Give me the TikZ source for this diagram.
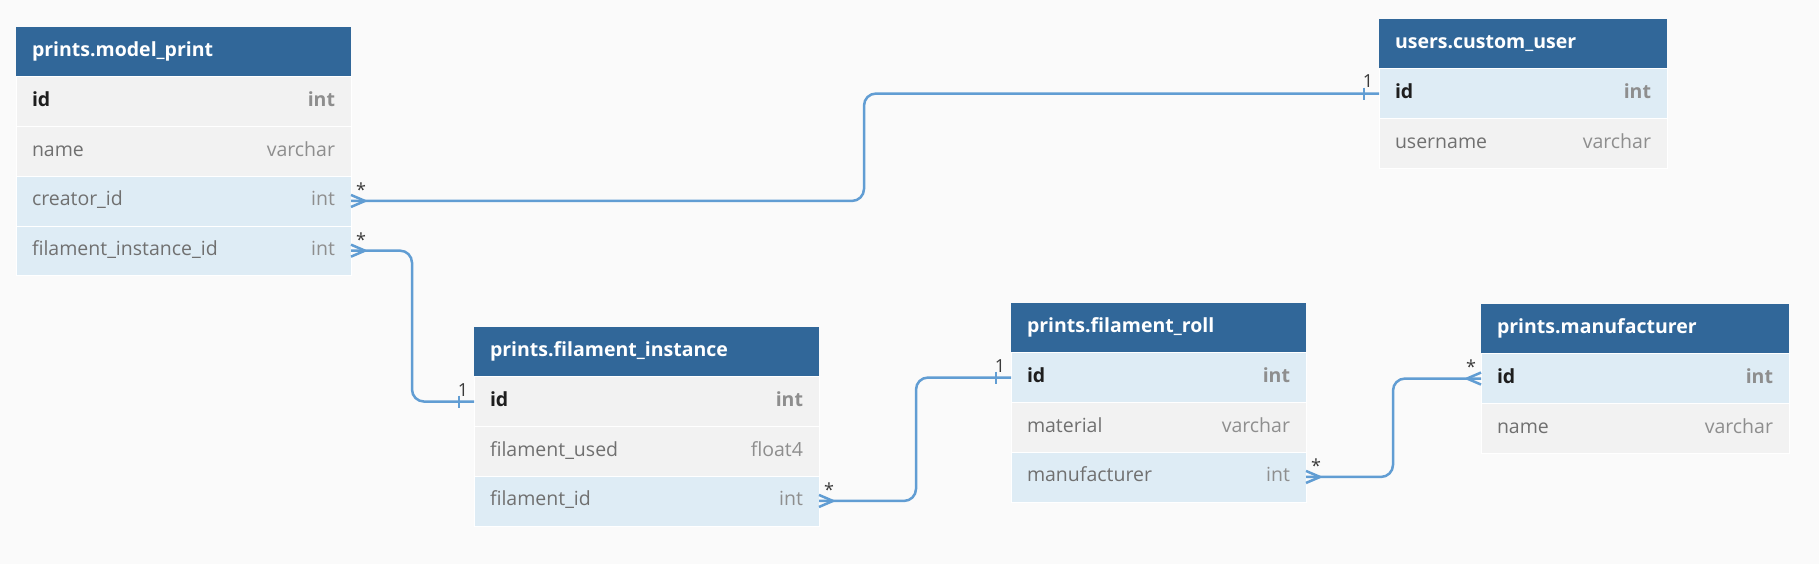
\documentclass[tikz,border=0pt]{standalone}
\usepackage{fontspec}
\setmainfont{Open Sans}
\usetikzlibrary{positioning}

\definecolor{bgcol}{HTML}{FAFAFA}
\definecolor{hdrblue}{HTML}{316799}
\definecolor{cblue}{HTML}{DEECF5}
\definecolor{cgray}{HTML}{F2F2F2}
\definecolor{linkblue}{HTML}{619DD3}
\definecolor{fieldgray}{HTML}{707070}
\definecolor{typegray}{HTML}{8E8E8E}
\definecolor{idblack}{HTML}{1E1E1E}
\definecolor{cardgray}{HTML}{3A3A3A}

\newcommand{\pkfield}[2]{\textbf{\color{idblack}#1}\hfill\textbf{\color{typegray}#2}}
\newcommand{\plainfield}[2]{{\color{fieldgray}#1}\hfill{\color{typegray}#2}}

\tikzset{
  tblw/.code={\pgfmathsetmacro\tblinner{#1-32}\tikzset{minimum width=#1pt,text width=\tblinner pt}},
  cell/.style={minimum height=49.7pt,inner xsep=16pt,inner ysep=0pt,outer sep=0pt,text height=14.5pt,text depth=4.5pt},
  tblhead/.style={cell,fill=hdrblue,text=white,font=\bfseries,anchor=north west},
  grayrow/.style={cell,fill=cgray,draw=white,line width=0.6pt},
  bluerow/.style={cell,fill=cblue,draw=white,line width=0.6pt},
  link/.style={draw=linkblue,line width=2.5pt,rounded corners=12pt},
  tick/.style={draw=linkblue,line width=2pt},
  card/.style={font=\fontsize{18}{18}\selectfont,text=cardgray,inner sep=0pt},
  crowfoot/.pic={\draw[draw=linkblue,line width=2.5pt,line join=round] (0,-6) -- (14,0) -- (0,6);}
}

\begin{document}
\fontsize{19.5}{24}\selectfont
\begin{tikzpicture}[x=1pt,y=-1pt]
\useasboundingbox (0,0) rectangle (1819,564);
\fill[bgcol] (0,0) rectangle (1819,564);

\begin{scope}[every node/.append style={tblw=335}]
\node[tblhead] (mp) at (16,27) {prints.model\_print};
\node[grayrow,below=0pt of mp] (mp-id) {\pkfield{id}{int}};
\node[grayrow,below=0pt of mp-id] (mp-name) {\plainfield{name}{varchar}};
\node[bluerow,below=0pt of mp-name] (mp-creator) {\plainfield{creator\_id}{int}};
\node[bluerow,below=0pt of mp-creator] (mp-filinst) {\plainfield{filament\_instance\_id}{int}};
\end{scope}

\begin{scope}[every node/.append style={tblw=288}]
\node[tblhead] (cu) at (1379,19) {users.custom\_user};
\node[bluerow,below=0pt of cu] (cu-id) {\pkfield{id}{int}};
\node[grayrow,below=0pt of cu-id] (cu-username) {\plainfield{username}{varchar}};
\end{scope}

\begin{scope}[every node/.append style={tblw=345}]
\node[tblhead] (fi) at (474,327) {prints.filament\_instance};
\node[grayrow,below=0pt of fi] (fi-id) {\pkfield{id}{int}};
\node[grayrow,below=0pt of fi-id] (fi-used) {\plainfield{filament\_used}{float4}};
\node[bluerow,below=0pt of fi-used] (fi-filid) {\plainfield{filament\_id}{int}};
\end{scope}

\begin{scope}[every node/.append style={tblw=295}]
\node[tblhead] (fr) at (1011,303) {prints.filament\_roll};
\node[bluerow,below=0pt of fr] (fr-id) {\pkfield{id}{int}};
\node[grayrow,below=0pt of fr-id] (fr-material) {\plainfield{material}{varchar}};
\node[bluerow,below=0pt of fr-material] (fr-manuf) {\plainfield{manufacturer}{int}};
\end{scope}

\begin{scope}[every node/.append style={tblw=308}]
\node[tblhead] (mf) at (1481,304) {prints.manufacturer};
\node[bluerow,below=0pt of mf] (mf-id) {\pkfield{id}{int}};
\node[grayrow,below=0pt of mf-id] (mf-name) {\plainfield{name}{varchar}};
\end{scope}

% relations
\draw[link] (mp-creator.east) -- ++(513,0) |- (cu-id.west);
\draw[link] (mp-filinst.east) -- ++(61,0) |- (fi-id.west);
\draw[link] (fi-filid.east) -- ++(97,0) |- (fr-id.west);
\draw[link] (fr-manuf.east) -- ++(87,0) |- (mf-id.west);

\pic at (mp-creator.east) {crowfoot};
\pic at (mp-filinst.east) {crowfoot};
\pic at (fi-filid.east) {crowfoot};
\pic at (fr-manuf.east) {crowfoot};
\pic[xscale=-1] at (mf-id.west) {crowfoot};

\draw[tick] ([xshift=-15pt,yshift=6pt]cu-id.west) -- ([xshift=-15pt,yshift=-6pt]cu-id.west);
\draw[tick] ([xshift=-15pt,yshift=6pt]fi-id.west) -- ([xshift=-15pt,yshift=-6pt]fi-id.west);
\draw[tick] ([xshift=-15pt,yshift=6pt]fr-id.west) -- ([xshift=-15pt,yshift=-6pt]fr-id.west);

\node[card] (c1-many) at ([xshift=10pt,yshift=11pt]mp-creator.east) {*};
\node[card] (c1-one) at ([xshift=-11pt,yshift=12pt]cu-id.west) {1};
\node[card] (c2-many) at ([xshift=10pt,yshift=11pt]mp-filinst.east) {*};
\node[card] (c2-one) at ([xshift=-11pt,yshift=11pt]fi-id.west) {1};
\node[card] (c3-many) at ([xshift=10pt,yshift=11pt]fi-filid.east) {*};
\node[card] (c3-one) at ([xshift=-11pt,yshift=11pt]fr-id.west) {1};
\node[card] (c4-many) at ([xshift=10pt,yshift=11pt]fr-manuf.east) {*};
\node[card] (c4-one) at ([xshift=-10pt,yshift=12pt]mf-id.west) {*};
\end{tikzpicture}
\end{document}
